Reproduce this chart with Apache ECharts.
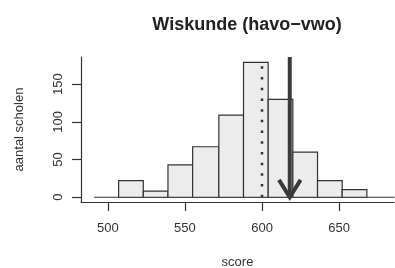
<!DOCTYPE html>
<html>
<head>
<meta charset="utf-8">
<script src="https://cdn.jsdelivr.net/npm/echarts@6/dist/echarts.min.js"></script>
<style>
  html, body { margin: 0; padding: 0; background: #fff; }
  #chart { width: 395px; height: 268px; }
</style>
</head>
<body>
<div id="chart"></div>
<script>
// histogram bins (score) and counts (aantal scholen)
var binEdges = [507, 523, 539, 555, 572, 588, 604, 620, 636, 652, 668];
var counts = [22, 8, 43, 67, 109, 179, 130, 60, 22, 10];
var xTicks = [500, 550, 600, 650];
var yTicks = [0, 50, 100, 150];
// reference lines
var dottedAt = 600;
var arrowAt = 618;
var baseline = [491, 686];

var bins = counts.map(function (c, i) {
    return [binEdges[i], binEdges[i + 1], c];
});

var myChart = echarts.init(document.getElementById('chart'));
var font = 'Liberation Sans, Arial, sans-serif';

var options = {
    animation: false,
    title: {
        text: 'Wiskunde (havo\u2212vwo)',
        left: 242,
        textAlign: 'center',
        top: 11,
        textStyle: { fontFamily: font, fontSize: 18, fontWeight: 'bold', color: '#222' }
    },
    grid: { left: 81, right: 1, top: 57, bottom: 66, outerBoundsMode: 'none' },
    xAxis: {
        type: 'value',
        min: 482.6,
        max: 685.6,
        name: 'score',
        nameLocation: 'middle',
        nameGap: 54,
        nameTextStyle: { fontFamily: font, fontSize: 13, color: '#333' },
        axisLine: { show: true, onZero: false, lineStyle: { color: '#333', width: 1.2 } },
        axisTick: { show: true, length: 9, customValues: xTicks, lineStyle: { color: '#333', width: 1.2 } },
        axisLabel: { customValues: xTicks, margin: 20, fontFamily: font, fontSize: 13, color: '#333' },
        splitLine: { show: false }
    },
    yAxis: {
        type: 'value',
        min: -6.3,
        max: 186.1,
        name: 'aantal scholen',
        nameLocation: 'middle',
        nameGap: 55,
        nameTextStyle: { fontFamily: font, fontSize: 13, color: '#333' },
        axisLine: { show: true, onZero: false, lineStyle: { color: '#333', width: 1.2 } },
        axisTick: { show: true, length: 9, customValues: yTicks, lineStyle: { color: '#333', width: 1.2 } },
        axisLabel: { customValues: yTicks, rotate: 90, margin: 16, fontFamily: font, fontSize: 13, color: '#333' },
        splitLine: { show: false }
    },
    series: [{
        type: 'line',
        data: [[baseline[0], 0], [baseline[1], 0]],
        showSymbol: false,
        lineStyle: { color: '#333', width: 1.2 },
        z: 1
    }, {
        type: 'custom',
        data: bins,
        renderItem: function (params, api) {
            var p0 = api.coord([api.value(0), api.value(2)]);
            var p1 = api.coord([api.value(1), 0]);
            return {
                type: 'rect',
                shape: { x: p0[0], y: p0[1], width: p1[0] - p0[0], height: p1[1] - p0[1] },
                style: { fill: '#ececec', stroke: '#333', lineWidth: 1.2 }
            };
        },
        z: 2
    }, {
        type: 'line',
        data: [[dottedAt, 0], [dottedAt, counts[5]]],
        showSymbol: false,
        lineStyle: { color: '#333', width: 2.5, type: [2.5, 8.2] },
        z: 3
    }, {
        type: 'line',
        data: [[arrowAt, 186], [arrowAt, 0]],
        showSymbol: false,
        lineStyle: { color: '#3a3a3a', width: 4 },
        z: 4
    }, {
        type: 'line',
        data: [[arrowAt - 7, 23], [arrowAt, 0], [arrowAt + 7, 23]],
        showSymbol: false,
        lineStyle: { color: '#3a3a3a', width: 4, join: 'miter' },
        z: 4
    }]
};
myChart.setOption(options);
</script>
</body>
</html>
